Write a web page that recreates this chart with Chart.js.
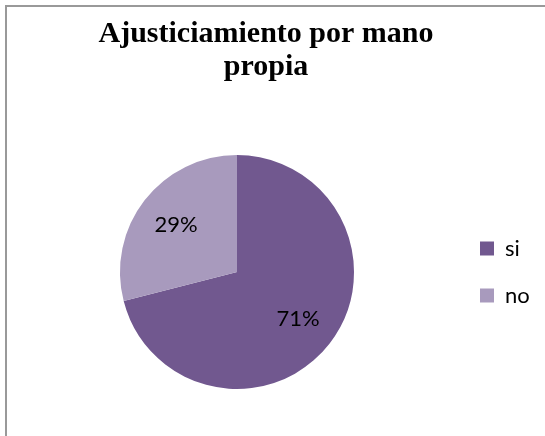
<!DOCTYPE html>
<html lang="es">
<head>
<meta charset="utf-8">
<title>Ajusticiamiento por mano propia</title>
<script src="https://cdn.jsdelivr.net/npm/chart.js@4.4.1/dist/chart.umd.min.js"></script>
<style>
    body { margin: 0; background: #ffffff; overflow: hidden; }
    #contenedor { position: relative; width: 545px; height: 436px; }
    #marco {
        position: absolute; left: 5px; top: 5px; width: 700px; height: 600px;
        border-left: 2px solid #999999; border-top: 2px solid #999999;
    }
    #grafico { position: absolute; left: 0; top: 0; }
</style>
</head>
<body>
<div id="contenedor">
    <div id="marco"></div>
    <canvas id="grafico" width="545" height="436"></canvas>
</div>
<script>
// Datos del gráfico
const categorias = ['si', 'no'];
const porcentajes = [71, 29];
const colores = ['#71588F', '#A89ABD'];
const titulo = ['Ajusticiamiento por mano', 'propia'];

// Título en dos líneas (el centro del título no coincide con el de la torta)
const tituloGrafico = {
    id: 'tituloGrafico',
    afterDraw(chart) {
        const ctx = chart.ctx;
        ctx.save();
        ctx.font = 'bold 30px "Liberation Serif", "Times New Roman", serif';
        ctx.fillStyle = '#000000';
        ctx.textAlign = 'center';
        ctx.textBaseline = 'alphabetic';
        titulo.forEach((linea, i) => {
            ctx.fillText(linea, 266, 42 + i * 33);
        });
        ctx.restore();
    }
};

// Plugin simple para escribir el porcentaje dentro de cada porción
const etiquetasPorcentaje = {
    id: 'etiquetasPorcentaje',
    afterDatasetsDraw(chart) {
        const ctx = chart.ctx;
        const meta = chart.getDatasetMeta(0);
        ctx.save();
        ctx.font = '22px Lato';
        ctx.fillStyle = '#000000';
        ctx.textAlign = 'center';
        ctx.textBaseline = 'middle';
        meta.data.forEach((arco, i) => {
            const p = arco.getProps(['x', 'y', 'startAngle', 'endAngle', 'outerRadius'], true);
            const medio = (p.startAngle + p.endAngle) / 2;
            const x = p.x + Math.cos(medio) * p.outerRadius * 0.66;
            const y = p.y + Math.sin(medio) * p.outerRadius * 0.66;
            ctx.fillText(porcentajes[i] + '%', x, y);
        });
        ctx.restore();
    }
};

const ctx = document.getElementById('grafico').getContext('2d');
new Chart(ctx, {
    type: 'pie',
    data: {
        labels: categorias,
        datasets: [{
            data: porcentajes,
            backgroundColor: colores,
            borderWidth: 0,
            radius: 117
        }]
    },
    options: {
        responsive: false,
        animation: false,
        layout: {
            padding: { left: 19, right: 14, top: 120, bottom: 12 }
        },
        plugins: {
            title: { display: false },
            legend: {
                position: 'right',
                fullSize: false,
                maxWidth: 76,
                labels: {
                    color: '#000000',
                    font: { family: 'Lato', size: 22 },
                    boxWidth: 14,
                    boxHeight: 14,
                    padding: 25
                }
            },
            tooltip: { enabled: false }
        }
    },
    plugins: [etiquetasPorcentaje, tituloGrafico]
});
</script>
</body>
</html>
